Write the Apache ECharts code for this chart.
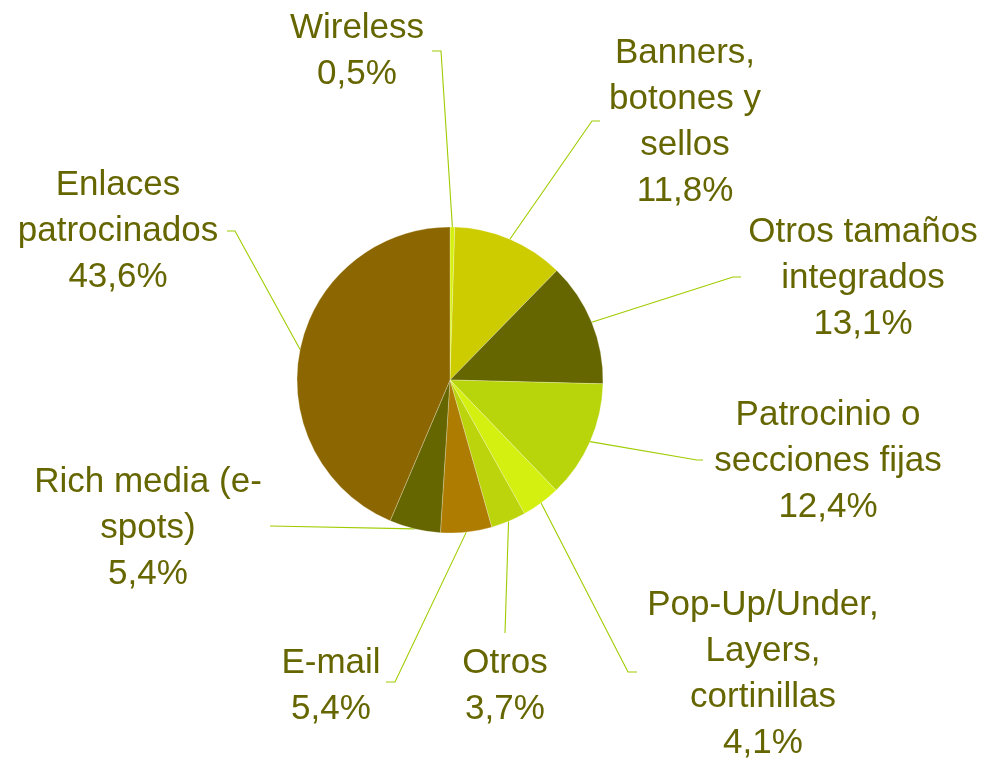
<!DOCTYPE html>
<html>
<head>
<meta charset="utf-8">
<script src="https://cdn.jsdelivr.net/npm/echarts@6/dist/echarts.min.js"></script>
<style>
  html, body { margin: 0; padding: 0; background: #ffffff; }
  #chart { width: 984px; height: 758px; }
</style>
</head>
<body>
<div id="chart"></div>
<script>
// Share of online advertising investment by format (%)
const categories = [
  'Wireless',
  'Banners,\nbotones y\nsellos',
  'Otros tamaños\nintegrados',
  'Patrocinio o\nsecciones fijas',
  'Pop-Up/Under,\nLayers,\ncortinillas',
  'Otros',
  'E-mail',
  'Rich media (e-\nspots)',
  'Enlaces\npatrocinados'
];
const shares = [0.5, 11.8, 13.1, 12.4, 4.1, 3.7, 5.4, 5.4, 43.6];
const sliceColors = ['#d6f012', '#cccc00', '#666600', '#b8d40a', '#d4f010', '#bbd40b', '#ad7c00', '#666600', '#8c6600'];

// Label placement around the pie: block centre, then leader elbow and end
const labelSpots = [
  { x: 357, y: 51,  elbow: [441, 51],  end: [432, 51] },
  { x: 685, y: 122, elbow: [592, 121], end: [600, 121] },
  { x: 863, y: 278, elbow: [733, 277], end: [741, 277] },
  { x: 828, y: 461, elbow: [697, 460], end: [703, 460] },
  { x: 763, y: 674, elbow: [628, 672], end: [637, 672] },
  { x: 505, y: 686, elbow: [505, 633], end: [505, 633] },
  { x: 331, y: 686, elbow: [395, 682], end: [386, 682] },
  { x: 148, y: 528, elbow: [270, 526], end: [270, 526] },
  { x: 118, y: 231, elbow: [235, 231], end: [227, 231] }
];

const fmt = v => v.toFixed(1).replace('.', ',') + '%';

const chart = echarts.init(document.getElementById('chart'), null, { renderer: 'canvas' });
chart.setOption({
  backgroundColor: '#ffffff',
  animation: false,
  series: [{
    type: 'pie',
    center: [450, 380],
    radius: 153,
    startAngle: 90,
    clockwise: true,
    silent: true,
    avoidLabelOverlap: false,
    data: categories.map((name, i) => ({
      name: name,
      value: shares[i],
      itemStyle: { color: sliceColors[i] }
    })),
    itemStyle: { borderColor: 'rgba(255,255,240,0.45)', borderWidth: 0.6 },
    label: {
      show: true,
      position: 'outside',
      formatter: p => p.name + '\n' + fmt(p.value),
      color: '#666600',
      fontFamily: '"Liberation Sans", Arial, sans-serif',
      fontSize: 35,
      lineHeight: 46,
      align: 'center'
    },
    labelLine: {
      show: true,
      lineStyle: { color: '#9fcc00', width: 1.1 }
    },
    labelLayout: function (params) {
      const s = labelSpots[params.dataIndex];
      const start = params.labelLinePoints ? params.labelLinePoints[0] : s.elbow;
      return {
        x: s.x,
        y: s.y,
        align: 'center',
        verticalAlign: 'middle',
        labelLinePoints: [start, s.elbow, s.end]
      };
    }
  }]
});
</script>
</body>
</html>
